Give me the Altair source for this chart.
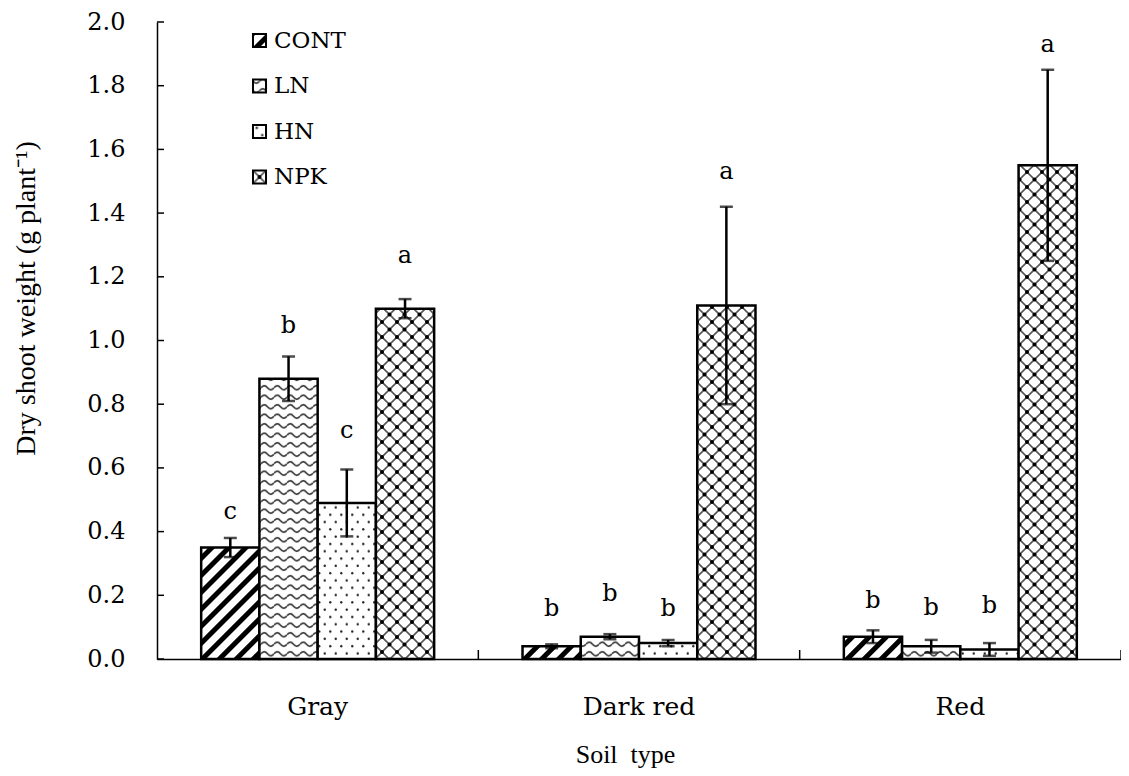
import altair as alt
import pandas as pd

# ---------------- data ----------------
soils = ["Gray", "Dark red", "Red"]
treatments = ["CONT", "LN", "HN", "NPK"]

gray_means = [0.35, 0.88, 0.49, 1.10]
darkred_means = [0.04, 0.07, 0.05, 1.11]
red_means = [0.07, 0.04, 0.03, 1.55]

gray_err = [0.03, 0.07, 0.105, 0.03]
darkred_err = [0.006, 0.008, 0.01, 0.31]
red_err = [0.02, 0.02, 0.02, 0.30]

gray_letters = ["c", "b", "c", "a"]
darkred_letters = ["b", "b", "b", "a"]
red_letters = ["b", "b", "b", "a"]

gray_letter_y = [0.463, 1.045, 0.717, 1.264]
darkred_letter_y = [0.156, 0.204, 0.156, 1.53]
red_letter_y = [0.183, 0.159, 0.167, 1.928]

y_ticks = [0.0, 0.2, 0.4, 0.6, 0.8, 1.0, 1.2, 1.4, 1.6, 1.8, 2.0]
# category boundaries on the x axis (between / after the soil groups)
x_bounds = [1, 2, 3]

y_title = "Dry shoot weight (g plant\u207b\u00b9)"
x_title = "Soil\u00a0 type"

# ---------------- table ----------------
rows = []
for soil, means, errs, letters, ly in zip(
    soils,
    [gray_means, darkred_means, red_means],
    [gray_err, darkred_err, red_err],
    [gray_letters, darkred_letters, red_letters],
    [gray_letter_y, darkred_letter_y, red_letter_y],
):
    for t, m, e, l, yy in zip(treatments, means, errs, letters, ly):
        rows.append(dict(soil=soil, treatment=t, mean=m, lo=m - e, hi=m + e,
                         letter=l, letter_y=yy))
df = pd.DataFrame(rows)
ticks_df = pd.DataFrame({"t": y_ticks})
bounds_df = pd.DataFrame({"b": x_bounds})

# ---------------- hatch patterns (SVG defs injected in the page) ----------------
PATTERN_DEFS = """
<svg width="0" height="0" style="position:absolute;width:0;height:0;overflow:hidden" aria-hidden="true">
 <defs>
  <pattern id="pat-cont" patternUnits="userSpaceOnUse" width="12" height="12" patternTransform="rotate(45)">
   <rect width="12" height="12" fill="white"/>
   <rect width="5" height="12" fill="black"/>
  </pattern>
  <pattern id="pat-ln" patternUnits="userSpaceOnUse" width="13" height="9.5">
   <rect width="13" height="9.5" fill="white"/>
   <path d="M0,4.75 Q3.25,0.75 6.5,4.75 Q9.75,8.75 13,4.75" fill="none" stroke="#333" stroke-width="1.6"/>
  </pattern>
  <pattern id="pat-hn" patternUnits="userSpaceOnUse" width="11" height="14.6">
   <rect width="11" height="14.6" fill="white"/>
   <circle cx="2.75" cy="3.65" r="1.2" fill="#222"/>
   <circle cx="8.25" cy="10.95" r="1.2" fill="#222"/>
  </pattern>
  <pattern id="pat-npk" patternUnits="userSpaceOnUse" width="15" height="15">
   <rect width="15" height="15" fill="white"/>
   <path d="M0,0 L15,15 M15,0 L0,15" stroke="#555" stroke-width="1.6"/>
   <circle cx="7.5" cy="7.5" r="2" fill="black"/>
   <circle cx="0" cy="0" r="2" fill="black"/>
   <circle cx="15" cy="0" r="2" fill="black"/>
   <circle cx="0" cy="15" r="2" fill="black"/>
   <circle cx="15" cy="15" r="2" fill="black"/>
  </pattern>
 </defs>
</svg>
"""

fill_range = ["url(#pat-cont) #222", "url(#pat-ln) #777",
              "url(#pat-hn) #ddd", "url(#pat-npk) #999"]

# ---------------- scales / axes ----------------
PI = 0.275
x_scale = alt.Scale(domain=soils, paddingInner=PI, paddingOuter=PI / 2)
y_scale = alt.Scale(domain=[0, 2], nice=False, zero=True)

x_axis = alt.Axis(
    title=x_title, labelAngle=0, labelFont="DejaVu Serif", labelFontSize=25,
    labelColor="black", labelPadding=35, ticks=False, tickSize=0,
    domainColor="black", domainWidth=1.5, grid=False,
    titleFont="Liberation Serif", titleFontSize=26, titleFontWeight="normal",
    titleColor="black", titleX=468, titleY=103, titleBaseline="alphabetic",
    titleAlign="center",
)
y_axis = alt.Axis(
    title=y_title, values=y_ticks, format=".1f", labelFont="DejaVu Serif",
    labelFontSize=24, labelColor="black", labelPadding=32, ticks=False,
    tickSize=0, domainColor="black", domainWidth=1.5, grid=False,
    titleFont="Liberation Serif", titleFontSize=28, titleFontWeight="normal",
    titleColor="black", titleAngle=270, titleX=-123, titleY=276,
    titleBaseline="alphabetic", titleAlign="center",
)

X = alt.X("soil:N", scale=x_scale, axis=x_axis)
XO = alt.XOffset("treatment:N",
                 scale=alt.Scale(domain=treatments, paddingInner=0, paddingOuter=0))

base = alt.Chart(df)

bars = base.mark_bar(stroke="black", strokeWidth=2.5).encode(
    x=X,
    xOffset=XO,
    y=alt.Y("mean:Q", scale=y_scale, axis=y_axis),
    fill=alt.Fill(
        "treatment:N",
        scale=alt.Scale(domain=treatments, range=fill_range),
        legend=alt.Legend(
            title=None, orient="none", legendX=91, legendY=7, padding=0,
            symbolType="square", symbolSize=170, symbolStrokeColor="black",
            symbolStrokeWidth=2, symbolOpacity=1, labelFont="DejaVu Serif",
            labelFontSize=23, labelColor="black", labelOffset=3, rowPadding=21.5,
        ),
    ),
)

err = base.mark_rule(color="black", strokeWidth=2.5).encode(
    x=X, xOffset=XO, y=alt.Y("lo:Q", scale=y_scale, axis=y_axis), y2="hi:Q"
)
cap_hi = base.mark_tick(color="black", thickness=2.5, size=13, orient="horizontal").encode(
    x=X, xOffset=XO, y=alt.Y("hi:Q", scale=y_scale, axis=y_axis)
)
cap_lo = base.mark_tick(color="black", thickness=2.5, size=13, orient="horizontal").encode(
    x=X, xOffset=XO, y=alt.Y("lo:Q", scale=y_scale, axis=y_axis)
)
letters = base.mark_text(font="DejaVu Serif", fontSize=24, color="black",
                         baseline="middle", align="center").encode(
    x=X, xOffset=XO, y=alt.Y("letter_y:Q", scale=y_scale, axis=y_axis),
    text="letter:N",
)

y_tick_marks = alt.Chart(ticks_df).mark_rule(color="black", strokeWidth=1.5).encode(
    y=alt.Y("t:Q", scale=y_scale, axis=y_axis), x=alt.value(0), x2=alt.value(7)
)

main = alt.layer(bars, err, cap_hi, cap_lo, letters, y_tick_marks)

x_tick_marks = alt.Chart(bounds_df).mark_rule(color="black", strokeWidth=1.5).encode(
    x=alt.X("b:Q", scale=alt.Scale(domain=[0, len(soils)], nice=False, zero=True), axis=None),
    y=alt.value(628), y2=alt.value(637),
)

chart = (
    alt.layer(main, x_tick_marks)
    .resolve_scale(x="independent")
    .properties(
        width=964, height=637,
        padding={"left": 149, "top": 14, "right": 0, "bottom": 109},
        autosize=alt.AutoSizeParams(type="none"),
        background="white",
    )
    .configure_view(stroke=None)
)


class PatternTemplate:
    """Wraps Altair's standard page template and adds the hatch pattern defs."""

    def __init__(self, base_template):
        self.base_template = base_template

    def render(self, **kwargs):
        page = self.base_template.render(**kwargs)
        marker = '<div id="'
        if marker in page:
            return page.replace(marker, PATTERN_DEFS + marker, 1)
        return page.replace("<body>", "<body>" + PATTERN_DEFS, 1)


try:
    from altair.utils import html as _alt_html
    _base_tpl = getattr(_alt_html, "TEMPLATES", {}).get("standard") or _alt_html.HTML_TEMPLATE
    chart.save("out.html", embed_options={"renderer": "svg", "actions": False},
               template=PatternTemplate(_base_tpl))
except Exception:
    chart.save("out.html", embed_options={"renderer": "svg", "actions": False})
